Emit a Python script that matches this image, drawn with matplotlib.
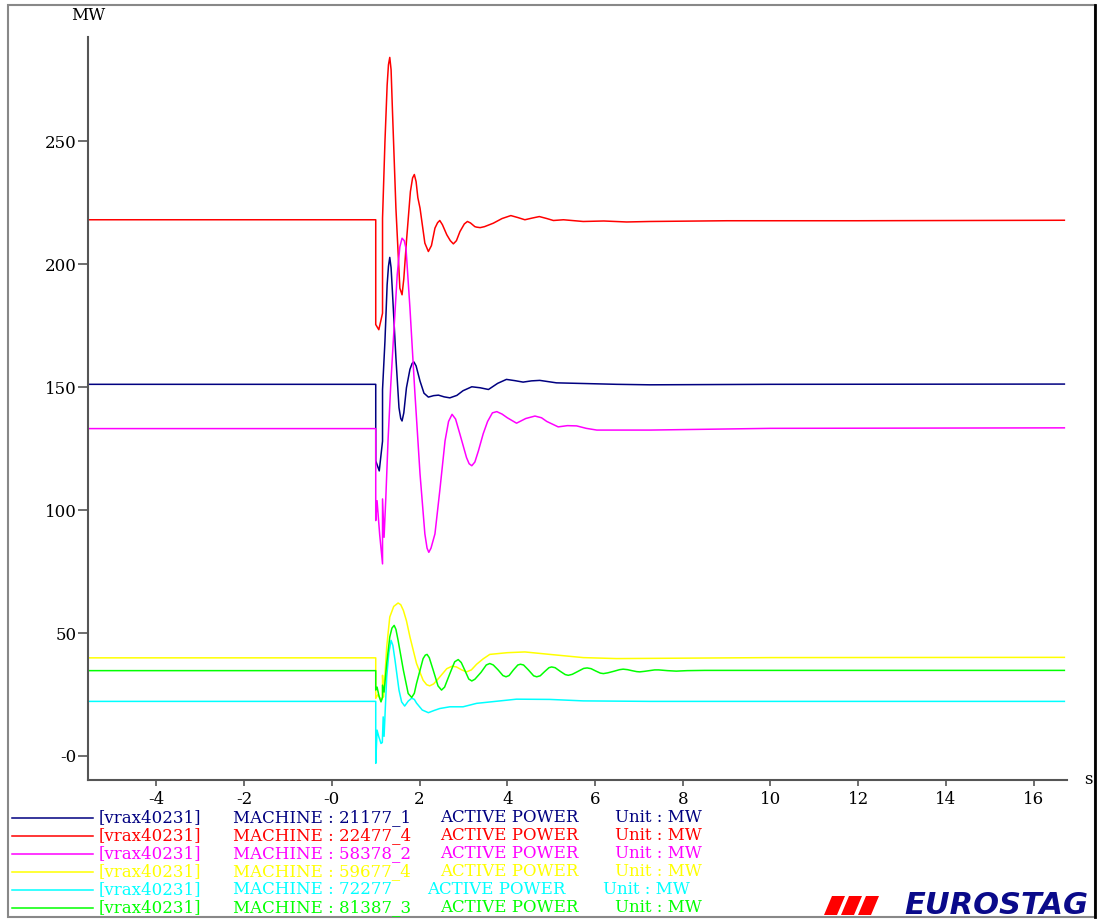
import matplotlib
matplotlib.use("Agg")
import matplotlib.pyplot as plt
from matplotlib.patches import Rectangle, Polygon
from matplotlib.lines import Line2D

# ---- data (time in s, active power in MW) ----
red_t = [-5.56, 1.0, 1.0, 1.07, 1.155, 1.155, 1.21, 1.26, 1.29, 1.32, 1.35, 1.38, 1.46, 1.55,
         1.60, 1.64, 1.70, 1.79, 1.84, 1.88, 1.92, 1.96, 2.01, 2.12, 2.20, 2.27, 2.35, 2.41,
         2.46, 2.52, 2.62, 2.70, 2.77, 2.84, 2.92, 3.02, 3.09, 3.16, 3.26, 3.30, 3.38, 3.48,
         3.68, 3.88, 4.08, 4.24, 4.40, 4.57, 4.73, 4.90, 5.05, 5.28, 5.73, 6.2, 6.72, 7.25,
         9.0, 12.0, 16.7]
red_p = [218, 218, 175.4, 173.3, 180, 218.6, 249.7, 272.7, 281, 284, 279, 263, 222.7, 190.2,
         187.5, 194, 209.2, 229.4, 235, 236.4, 233.5, 227, 222.7, 208.5, 205.1, 207.5, 214.6, 216.8,
         217.7, 216, 211.9, 209.5, 208.2, 209.5, 213.2, 216.3, 217.3, 216.7, 215.2, 215.0, 214.8, 215.2,
         216.6, 218.5, 219.7, 218.9, 218, 218.7, 219.3, 218.5, 217.7, 218.0, 217.3, 217.5, 217.1, 217.3,
         217.6, 217.6, 217.8]

navy_t = [-5.56, 1.0, 1.0, 1.08, 1.155, 1.155, 1.21, 1.26, 1.29, 1.32, 1.35, 1.38, 1.46, 1.53,
          1.57, 1.60, 1.64, 1.70, 1.78, 1.83, 1.87, 1.92, 2.01, 2.10, 2.20, 2.32, 2.43, 2.56,
          2.69, 2.85, 2.99, 3.19, 3.38, 3.57, 3.78, 3.98, 4.17, 4.36, 4.55, 4.74, 5.12, 5.58,
          6.49, 7.25, 10.0, 16.7]
navy_p = [151.1, 151.1, 120, 115.9, 128, 149, 168.6, 191.6, 199, 202.7, 198.5, 188.9, 161.9, 141.6,
          137.2, 136.2, 139.5, 149.7, 157.2, 159.6, 160.2, 158.6, 152.4, 147.5, 145.9, 146.5, 146.7, 146,
          145.6, 146.6, 148.5, 150.1, 149.7, 149, 151.5, 153.1, 152.6, 152, 152.5, 152.7, 151.7, 151.5,
          151.1, 150.9, 151.1, 151.2]

mag_t = [-5.56, 1.0, 1.0, 1.03, 1.09, 1.155, 1.155, 1.19, 1.23, 1.28, 1.34, 1.40, 1.49, 1.55,
         1.60, 1.65, 1.69, 1.78, 1.89, 2.01, 2.12, 2.17, 2.21, 2.26, 2.35, 2.46, 2.58, 2.66,
         2.74, 2.82, 2.92, 3.07, 3.13, 3.19, 3.26, 3.34, 3.45, 3.55, 3.66, 3.76, 3.88, 4.0,
         4.21, 4.42, 4.63, 4.78, 4.9, 5.16, 5.37, 5.58, 5.8, 6.04, 7.25, 10.0, 16.7]
mag_p = [133.1, 133.1, 95.7, 103.8, 90, 78.1, 104.5, 88.9, 105, 128.1, 150, 168.6, 195.7, 207,
         210.5, 209.5, 206.4, 182.1, 148.4, 114.6, 90.3, 84.5, 82.8, 84.5, 90.3, 107.8, 128.1, 136,
         138.9, 137, 130.8, 121.3, 118.8, 118, 119.5, 124, 131, 136, 139.5, 140, 139, 137.5,
         135.3, 137.2, 138.2, 137.5, 136, 133.8, 134.3, 134.2, 133.2, 132.5, 132.5, 133.2, 133.4]

yel_t = [-5.56, 1.0, 1.0, 1.05, 1.13, 1.155, 1.155, 1.18, 1.25, 1.32, 1.41, 1.51, 1.57, 1.63,
         1.70, 1.78, 1.93, 2.08, 2.16, 2.23, 2.32, 2.43, 2.62, 2.74, 2.84, 2.96, 3.07, 3.18,
         3.30, 3.45, 3.60, 4.0, 4.40, 4.97, 5.73, 6.49, 10.0, 16.7]
yel_p = [39.9, 39.9, 23.4, 25, 22.7, 23.5, 32.8, 24, 44.3, 56.5, 60.8, 62.2, 61.5, 59.2,
         55, 48.4, 37.6, 30.8, 29, 28.5, 29.3, 31.5, 35.5, 36.5, 36.2, 35, 34.2, 35,
         37.3, 39.5, 41.3, 42, 42.3, 41.3, 40.0, 39.6, 40.0, 40.1]

cyn_t = [-5.56, 1.0, 1.0, 1.03, 1.07, 1.12, 1.15, 1.17, 1.19, 1.25, 1.30, 1.35, 1.39, 1.44,
         1.53, 1.59, 1.66, 1.74, 1.82, 1.88, 1.93, 2.06, 2.20, 2.33, 2.46, 2.69, 2.99, 3.30,
         4.21, 4.97, 5.73, 7.25, 16.7]
cyn_p = [22.2, 22.2, -3, 10.5, 7.8, 5.1, 5.5, 15.9, 8, 32.1, 42, 47.0, 45, 38.9,
         26.8, 22, 20.3, 22.3, 23.5, 23, 21.5, 18.7, 17.6, 18.5, 19.3, 20, 20, 21.4,
         23.1, 23.0, 22.4, 22.2, 22.2]

grn_t = [-5.56, 1.0, 1.0, 1.03, 1.08, 1.12, 1.155, 1.155, 1.19, 1.25, 1.32, 1.37, 1.42, 1.46,
         1.51, 1.63, 1.74, 1.82, 1.88, 1.93, 2.08, 2.13, 2.17, 2.22, 2.31, 2.42, 2.50, 2.57,
         2.69, 2.80, 2.88, 2.95, 3.03, 3.12, 3.19, 3.26, 3.40, 3.52, 3.60, 3.68, 3.79, 3.90,
         3.97, 4.04, 4.14, 4.24, 4.30, 4.37, 4.48, 4.60, 4.67, 4.75, 4.85, 4.95, 5.01, 5.09,
         5.20, 5.32, 5.39, 5.48, 5.60, 5.74, 5.82, 5.91, 6.01, 6.12, 6.19, 6.29, 6.42, 6.56,
         6.64, 6.74, 6.84, 6.95, 7.02, 7.12, 7.24, 7.36, 7.45, 7.65, 7.85, 8.1, 8.5, 12.0, 16.7]
grn_p = [34.7, 34.7, 26.8, 28, 24, 22, 24, 28.8, 26, 37.6, 48.4, 52, 53.1, 51.5,
         47, 34.9, 25.4, 23.8, 25.5, 29.5, 39.6, 41, 41.3, 40, 34.9, 28.5, 26.8, 28,
         33.5, 38.3, 39.2, 38, 34.9, 31.3, 30.5, 31.2, 34.0, 37, 37.6, 37, 35, 32.7,
         32.2, 32.7, 35, 37, 37.3, 37, 35, 32.6, 32.2, 32.6, 34.3, 35.9, 36.2, 35.9,
         34.5, 33.1, 32.8, 33.2, 34.3, 35.6, 35.8, 35.5, 34.6, 33.7, 33.5, 33.8, 34.4, 35.1,
         35.3, 35.1, 34.7, 34.3, 34.2, 34.4, 34.7, 35, 35.0, 34.7, 34.5, 34.7, 34.8, 34.8, 34.8]

machines = ["21177_1", "22477_4", "58378_2", "59677_4", "72277", "81387_3"]
colors = ["#000080", "#ff0000", "#ff00ff", "#ffff00", "#00ffff", "#00ff00"]
series = [(navy_t, navy_p), (red_t, red_p), (mag_t, mag_p),
          (yel_t, yel_p), (cyn_t, cyn_p), (grn_t, grn_p)]

x_ticks = [-4, -2, 0, 2, 4, 6, 8, 10, 12, 14, 16]
x_labels = ["-4", "-2", "-0", "2", "4", "6", "8", "10", "12", "14", "16"]
y_ticks = [0, 50, 100, 150, 200, 250]
y_labels = ["-0", "50", "100", "150", "200", "250"]

W, H = 1097, 919
fig = plt.figure(figsize=(W / 100, H / 100), dpi=100)
fig.patch.set_facecolor("white")

def fx(px):
    return px / W

def fy(py):
    return 1 - py / H

ax = fig.add_axes([fx(88), fy(780), fx(1067) - fx(88), fy(37) - fy(780)])
for (t, p), c in zip(series, colors):
    ax.plot(t, p, color=c, lw=1.1)

ax.set_xlim(-5.56, 16.76)
ax.set_ylim(-9.76, 292.3)
for s in ["top", "right"]:
    ax.spines[s].set_visible(False)
for s in ["left", "bottom"]:
    ax.spines[s].set_color("#555555")
    ax.spines[s].set_linewidth(1.5)

font = "DejaVu Serif"
fs = 12
ax.set_xticks(x_ticks)
ax.set_xticklabels(x_labels, family=font, fontsize=fs)
ax.set_yticks(y_ticks)
ax.set_yticklabels(y_labels, family=font, fontsize=fs)
ax.tick_params(axis="y", length=7, width=1.2, color="#555555", pad=1)
ax.tick_params(axis="x", length=4, width=1.2, color="#555555", pad=4)

fig.text(fx(88), fy(16), "MW", family=font, fontsize=fs, ha="center", va="center")
fig.text(fx(1088), fy(779), "s", family=font, fontsize=fs, ha="center", va="center")

# legend rows
row_y = [818, 836, 854, 872, 890, 908]
for i, (m, c) in enumerate(zip(machines, colors)):
    y = fy(row_y[i])
    fig.add_artist(Line2D([fx(12), fx(93)], [y, y], color=c, lw=1.1))
    fig.text(fx(99), y, "[vrax40231]", color=c, family=font, fontsize=fs, va="center")
    fig.text(fx(233), y, "MACHINE : " + m, color=c, family=font, fontsize=fs, va="center")
    xa = 427 if m == "72277" else 440
    xu = 603 if m == "72277" else 615
    fig.text(fx(xa), y, "ACTIVE POWER", color=c, family=font, fontsize=fs, va="center")
    fig.text(fx(xu), y, "Unit : MW", color=c, family=font, fontsize=fs, va="center")

# EUROSTAG logo
for i in range(3):
    x0 = 824 + 17 * i
    pts = [(fx(x0), fy(915)), (fx(x0 + 13), fy(915)), (fx(x0 + 21), fy(896)), (fx(x0 + 8), fy(896))]
    fig.add_artist(Polygon(pts, closed=True, facecolor="#ff0000", edgecolor="none"))
fig.text(fx(1088), fy(905), "EUROSTAG", color="#0a0a8a", family="DejaVu Sans",
         fontsize=22, fontweight="bold", style="italic", ha="right", va="center")

# outer frame
fig.add_artist(Rectangle((fx(8), fy(917)), fx(1095) - fx(8), fy(5) - fy(917),
                         fill=False, edgecolor="#888888", lw=1.5))
fig.add_artist(Line2D([fx(1095), fx(1095)], [fy(917), fy(5)], color="black", lw=2))

fig.savefig("out.png", dpi=100)
